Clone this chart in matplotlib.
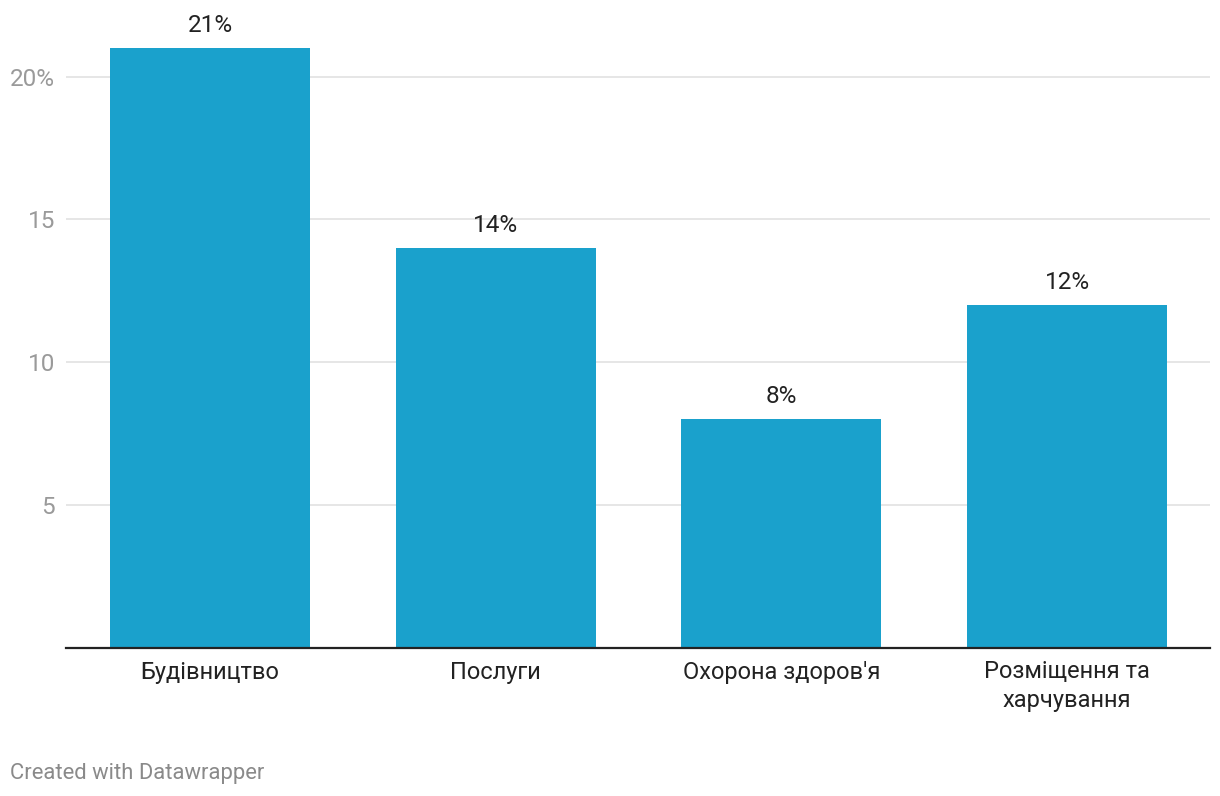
import numpy as np
import matplotlib.pyplot as plt

plt.rcParams['font.family'] = ['Roboto', 'DejaVu Sans']

# дані
categories = ["Будівництво", "Послуги", "Охорона здоров'я", "Розміщення та\nхарчування"]
values = [21, 14, 8, 12]
yticks = [5, 10, 15, 20]
ytick_labels = ["5", "10", "15", "20%"]

W, H = 1220, 796
fig = plt.figure(figsize=(W / 100, H / 100), dpi=100)
ax = fig.add_axes([66 / W, 1 - 648 / H, (1210 - 66) / W, (648 - 48) / H])

x = np.arange(len(categories))
ax.bar(x, values, width=0.70, color="#1aa1cc", zorder=2)

for xi, v in zip(x, values):
	ax.text(xi, v + 0.4, f"{v}%", ha="center", va="bottom", fontsize=17.5, color="#222222")

ax.set_xlim(-0.504, 3.50)
ax.set_ylim(0, 21)

ax.set_yticks(yticks)
ax.set_yticklabels(ytick_labels)
ax.yaxis.grid(True, color="#e2e2e2", linewidth=1.2, zorder=0)
ax.tick_params(axis="y", length=0, pad=8, labelsize=17.5, labelcolor="#9a9a9a")

ax.set_xticks(x)
ax.set_xticklabels(categories, linespacing=1.3)
ax.tick_params(axis="x", length=0, pad=9, labelsize=17, labelcolor="#222222")

for s in ["top", "right", "left"]:
	ax.spines[s].set_visible(False)
ax.spines["bottom"].set_color("#222222")
ax.spines["bottom"].set_linewidth(1.6)
ax.spines["bottom"].set_zorder(3)

fig.text(10 / W, 1 - 773 / H, "Created with Datawrapper", fontsize=15.8, color="#8a8a8a", va="center")

fig.savefig("out.png", dpi=100)
